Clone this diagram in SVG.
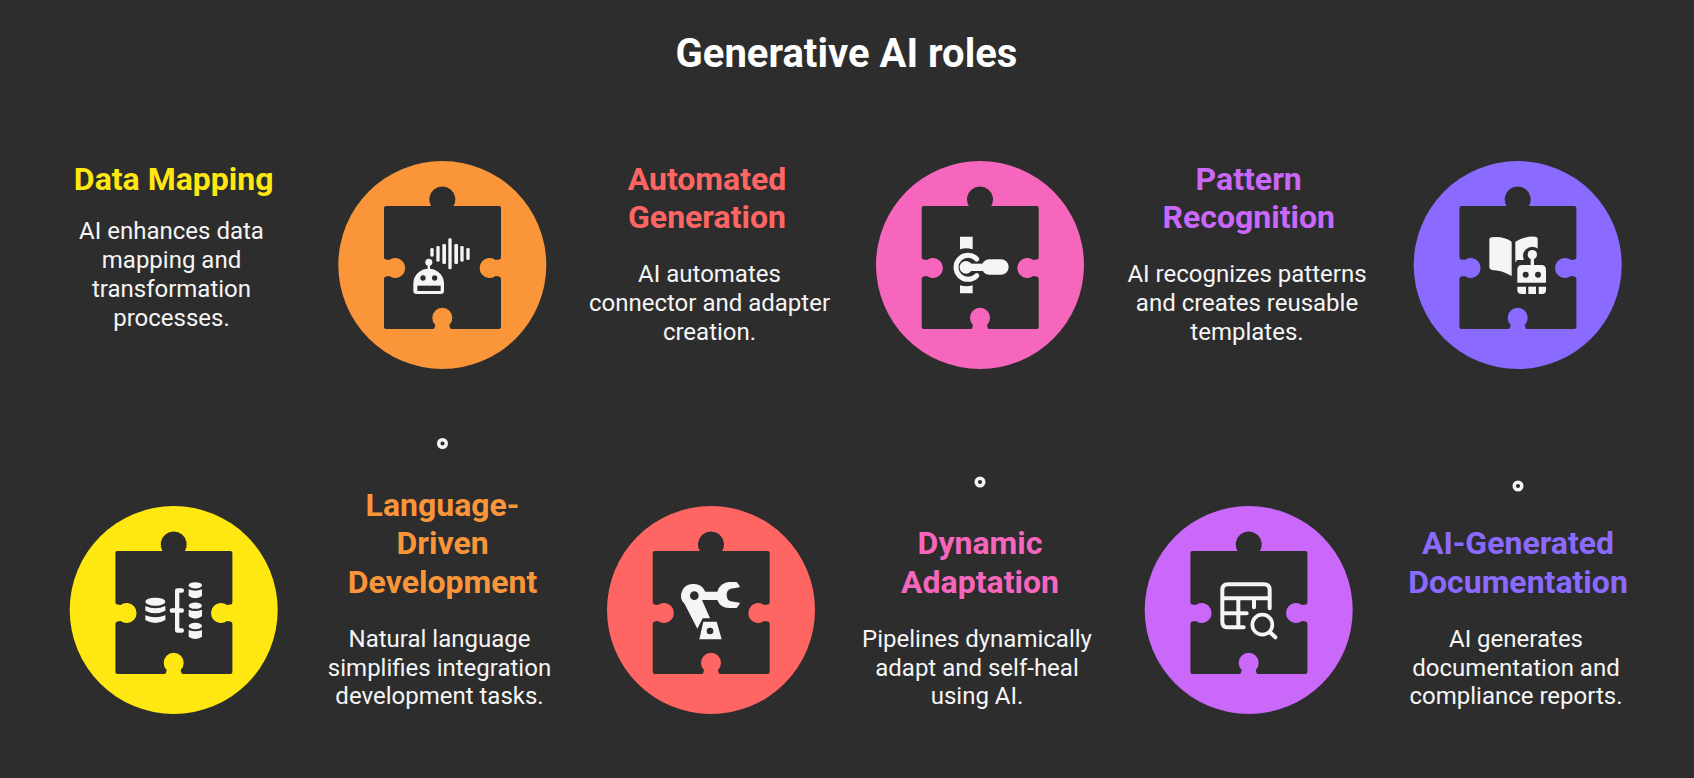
<svg xmlns="http://www.w3.org/2000/svg" xmlns:xlink="http://www.w3.org/1999/xlink" width="1694" height="778" viewBox="0 0 1694 778">
<style>
text{font-family:Roboto,"Liberation Sans",sans-serif;text-anchor:middle}
.t{font-size:40px;font-weight:700;fill:#fff}
.h{font-size:32px;font-weight:700}
.b{font-size:24px;font-weight:400;fill:#f5f5f5}
.w{fill:#f5f5f5}
.d{fill:#2d2d2d}
.s{fill:none;stroke:#f5f5f5;stroke-linecap:round}
.dot{fill:#2d2d2d;stroke:#f5f5f5;stroke-width:3.4}
</style>
<defs>
<path id="piece" fill="#2d2d2d" d="M-56.3-59H-11.2A13 13 0 1 1 11.2-59H56.7A2 2 0 0 1 58.7-57V-8Q58.700-5.500 56.700-5.400L53.300-5A10 10 0 1 0 53.300 11L56.700 11.400Q58.700 11.500 58.700 14V62A2 2 0 0 1 56.700 64H9.500Q7.500 64 7.500 62L7 60A10 10 0 1 0-7 60L-7.500 62Q-7.500 64-9.500 64H-56.300A2 2 0 0 1-58.300 62V14Q-58.300 11.500-56.300 11.400L-53.100 11A10 10 0 1 0-53.100-5L-56.300-5.400Q-58.300-5.500-58.300-8V-57A2 2 0 0 1-56.300-59Z"/>
</defs>
<rect width="1694" height="778" fill="#2d2d2d"/>
<text class="t" x="846.500" y="67">Generative AI roles</text>

<g id="connectors">
<circle class="dot" cx="442.5" cy="443.5" r="3.8"/>
<circle class="dot" cx="980" cy="482" r="3.8"/>
<circle class="dot" cx="1518" cy="486" r="3.8"/>
</g>

<g id="node-data-mapping">
<circle cx="173.7" cy="610" r="104" fill="#ffe711"/>
<use xlink:href="#piece" href="#piece" x="173.7" y="610"/>
<g transform="translate(60 500) scale(.33333)">
<ellipse class="w" cx="286" cy="305" rx="30" ry="12"/>
<path class="w" d="M256 318Q286 332 316 318V332Q286 348 256 332Z"/>
<path class="w" d="M256 346Q286 358 316 346V360Q286 378 256 360Z"/>
<path class="w" d="M352 398Q345 398 345 390V338H335Q329 338 329 331.500Q329 325 335 325H345V272Q345 265 352 265H366Q372 265 372 271.500Q372 278 366 278H358V325H366Q372 325 372 331.500Q372 338 366 338H358V385H366Q372 385 372 391.500Q372 398 366 398Z"/>
<ellipse class="w" cx="406" cy="256" rx="20" ry="9.500"/>
<path class="w" d="M386 268Q406 276 426 268V288Q406 302 386 288Z"/>
<ellipse class="w" cx="406" cy="317" rx="20" ry="9.500"/>
<path class="w" d="M386 329Q406 337 426 329V349Q406 363 386 349Z"/>
<ellipse class="w" cx="406" cy="378" rx="20" ry="9.500"/>
<path class="w" d="M386 390Q406 398 426 390V410Q406 424 386 410Z"/>
</g>
<text class="h" x="173.700" y="189.500" fill="#ffe711">Data Mapping</text>
<text class="b" x="171.500" y="239">AI enhances data</text>
<text class="b" x="171.500" y="268">mapping and</text>
<text class="b" x="171.500" y="297">transformation</text>
<text class="b" x="171.500" y="326">processes.</text>
</g>

<g id="node-language">
<circle cx="442.300" cy="265" r="104" fill="#fa9639"/>
<use xlink:href="#piece" href="#piece" x="442.300" y="265"/>
<g transform="translate(320 160) scale(.33333)">
<g class="w">
<rect x="331" y="264" width="10" height="26" rx="4"/>
<rect x="349" y="258" width="10" height="47" rx="4"/>
<rect x="367" y="252" width="11" height="60" rx="4"/>
<rect x="385" y="235" width="10" height="93" rx="4"/>
<rect x="403" y="252" width="11" height="60" rx="4"/>
<rect x="421" y="258" width="10" height="47" rx="4"/>
<rect x="439" y="264" width="10" height="36" rx="4"/>
<circle cx="326.500" cy="307" r="10.500"/>
<rect x="323" y="310" width="7" height="20"/>
<path d="M280 392V370A46 44 0 0 1 372 370V392Q372 402 362 402H290Q280 402 280 392Z"/>
</g>
<circle class="d" cx="309" cy="354" r="8"/>
<circle class="d" cx="344" cy="354" r="8"/>
<rect class="d" x="292" y="377" width="70" height="16"/>
</g>
<text class="h" x="442.500" y="515.500" fill="#fa9639">Language-</text>
<text class="h" x="442.500" y="554" fill="#fa9639">Driven</text>
<text class="h" x="442.500" y="592.500" fill="#fa9639">Development</text>
<text class="b" x="439.500" y="646.700">Natural language</text>
<text class="b" x="439.500" y="675.500">simplifies integration</text>
<text class="b" x="439.500" y="704.300">development tasks.</text>
</g>

<g id="node-automated">
<circle cx="711" cy="610" r="104" fill="#ff6663"/>
<use xlink:href="#piece" href="#piece" x="711" y="610"/>
<g transform="translate(600 500) scale(.33333)">
<path class="w" d="M282 252A35 35 0 0 1 316 275H352A38 38 0 0 1 388 246H410L419 258V262L392 266Q380 270 380 285Q380 300 392 304L419 308V312L410 324H388A38 38 0 0 1 352 300H306L330 355H308L292 386L254 312A35 35 0 0 1 282 252Z"/>
<circle class="d" cx="283" cy="287" r="13"/>
<path class="w" d="M310 365H350L365 418H298Z"/>
<circle class="d" cx="330" cy="393" r="10"/>
</g>
<text class="h" x="707" y="189.500" fill="#ff6663">Automated</text>
<text class="h" x="707" y="228" fill="#ff6663">Generation</text>
<text class="b" x="709.500" y="282">AI automates</text>
<text class="b" x="709.500" y="311">connector and adapter</text>
<text class="b" x="709.500" y="340">creation.</text>
</g>

<g id="node-dynamic">
<circle cx="980" cy="265" r="104" fill="#f766bd"/>
<use xlink:href="#piece" href="#piece" x="980" y="265"/>
<g transform="translate(860 160) scale(.33333)">
<path class="w" d="M300 230H338V268Q319 262 300 268Z"/>
<path class="w" d="M300 376Q319 382 338 376V400H300Z"/>
<path class="s" stroke-width="15" d="M350 297A36 36 0 1 0 350 347"/>
<circle class="w" cx="318" cy="322" r="19"/>
<rect class="w" x="318" y="311" width="60" height="22"/>
<rect class="w" x="365" y="298" width="81" height="46" rx="23"/>
</g>
<text class="h" x="980" y="554" fill="#f766bd">Dynamic</text>
<text class="h" x="980" y="592.500" fill="#f766bd">Adaptation</text>
<text class="b" x="977" y="646.700">Pipelines dynamically</text>
<text class="b" x="977" y="675.500">adapt and self-heal</text>
<text class="b" x="977" y="704.300">using AI.</text>
</g>

<g id="node-pattern">
<circle cx="1248.700" cy="610" r="104" fill="#c968f9"/>
<use xlink:href="#piece" href="#piece" x="1248.700" y="610"/>
<g transform="translate(1140 500) scale(.33333)">
<path class="s" stroke-width="12" d="M389 325V270Q389 253 372 253H264Q247 253 247 270V365Q247 382 264 382H311M247 295H389M247 340H320M295 295V382M342 295V322"/>
<circle class="s" stroke-width="11" cx="367" cy="374" r="30"/>
<path class="s" stroke-width="12" d="M390 397L406 412"/>
</g>
<text class="h" x="1248.700" y="189.500" fill="#c968f9">Pattern</text>
<text class="h" x="1248.700" y="228" fill="#c968f9">Recognition</text>
<text class="b" x="1247" y="282">AI recognizes patterns</text>
<text class="b" x="1247" y="311">and creates reusable</text>
<text class="b" x="1247" y="340">templates.</text>
</g>

<g id="node-documentation">
<circle cx="1517.700" cy="265" r="104" fill="#8a6aff"/>
<use xlink:href="#piece" href="#piece" x="1517.700" y="265"/>
<g transform="translate(1400 160) scale(.33333)">
<path class="w" d="M268 240Q268 232 276 232Q310 228 335 245V348Q305 330 276 330Q268 328 268 322Z"/>
<path class="w" d="M346 245Q375 228 405 230Q413 230 413 238V300H350L346 315Z"/>
<circle class="d" cx="397" cy="288" r="28"/>
<rect class="d" x="345" y="306" width="100" height="70"/>
<circle class="w" cx="397" cy="284" r="14"/>
<rect class="w" x="392" y="290" width="10" height="30"/>
<path class="w" d="M352 368V329Q352 315 366 315H424Q438 315 438 329V368Z"/>
<circle class="d" cx="377" cy="344" r="9"/>
<circle class="d" cx="414" cy="344" r="9"/>
<path class="w" d="M352 380H378V402H366Q352 402 352 390Z"/>
<rect class="w" x="385" y="380" width="23" height="22"/>
<path class="w" d="M416 380H438V390Q438 402 426 402H416Z"/>
</g>
<text class="h" x="1518" y="554" fill="#8a6aff">AI-Generated</text>
<text class="h" x="1518" y="592.500" fill="#8a6aff">Documentation</text>
<text class="b" x="1516" y="646.700">AI generates</text>
<text class="b" x="1516" y="675.500">documentation and</text>
<text class="b" x="1516" y="704.300">compliance reports.</text>
</g>
</svg>
